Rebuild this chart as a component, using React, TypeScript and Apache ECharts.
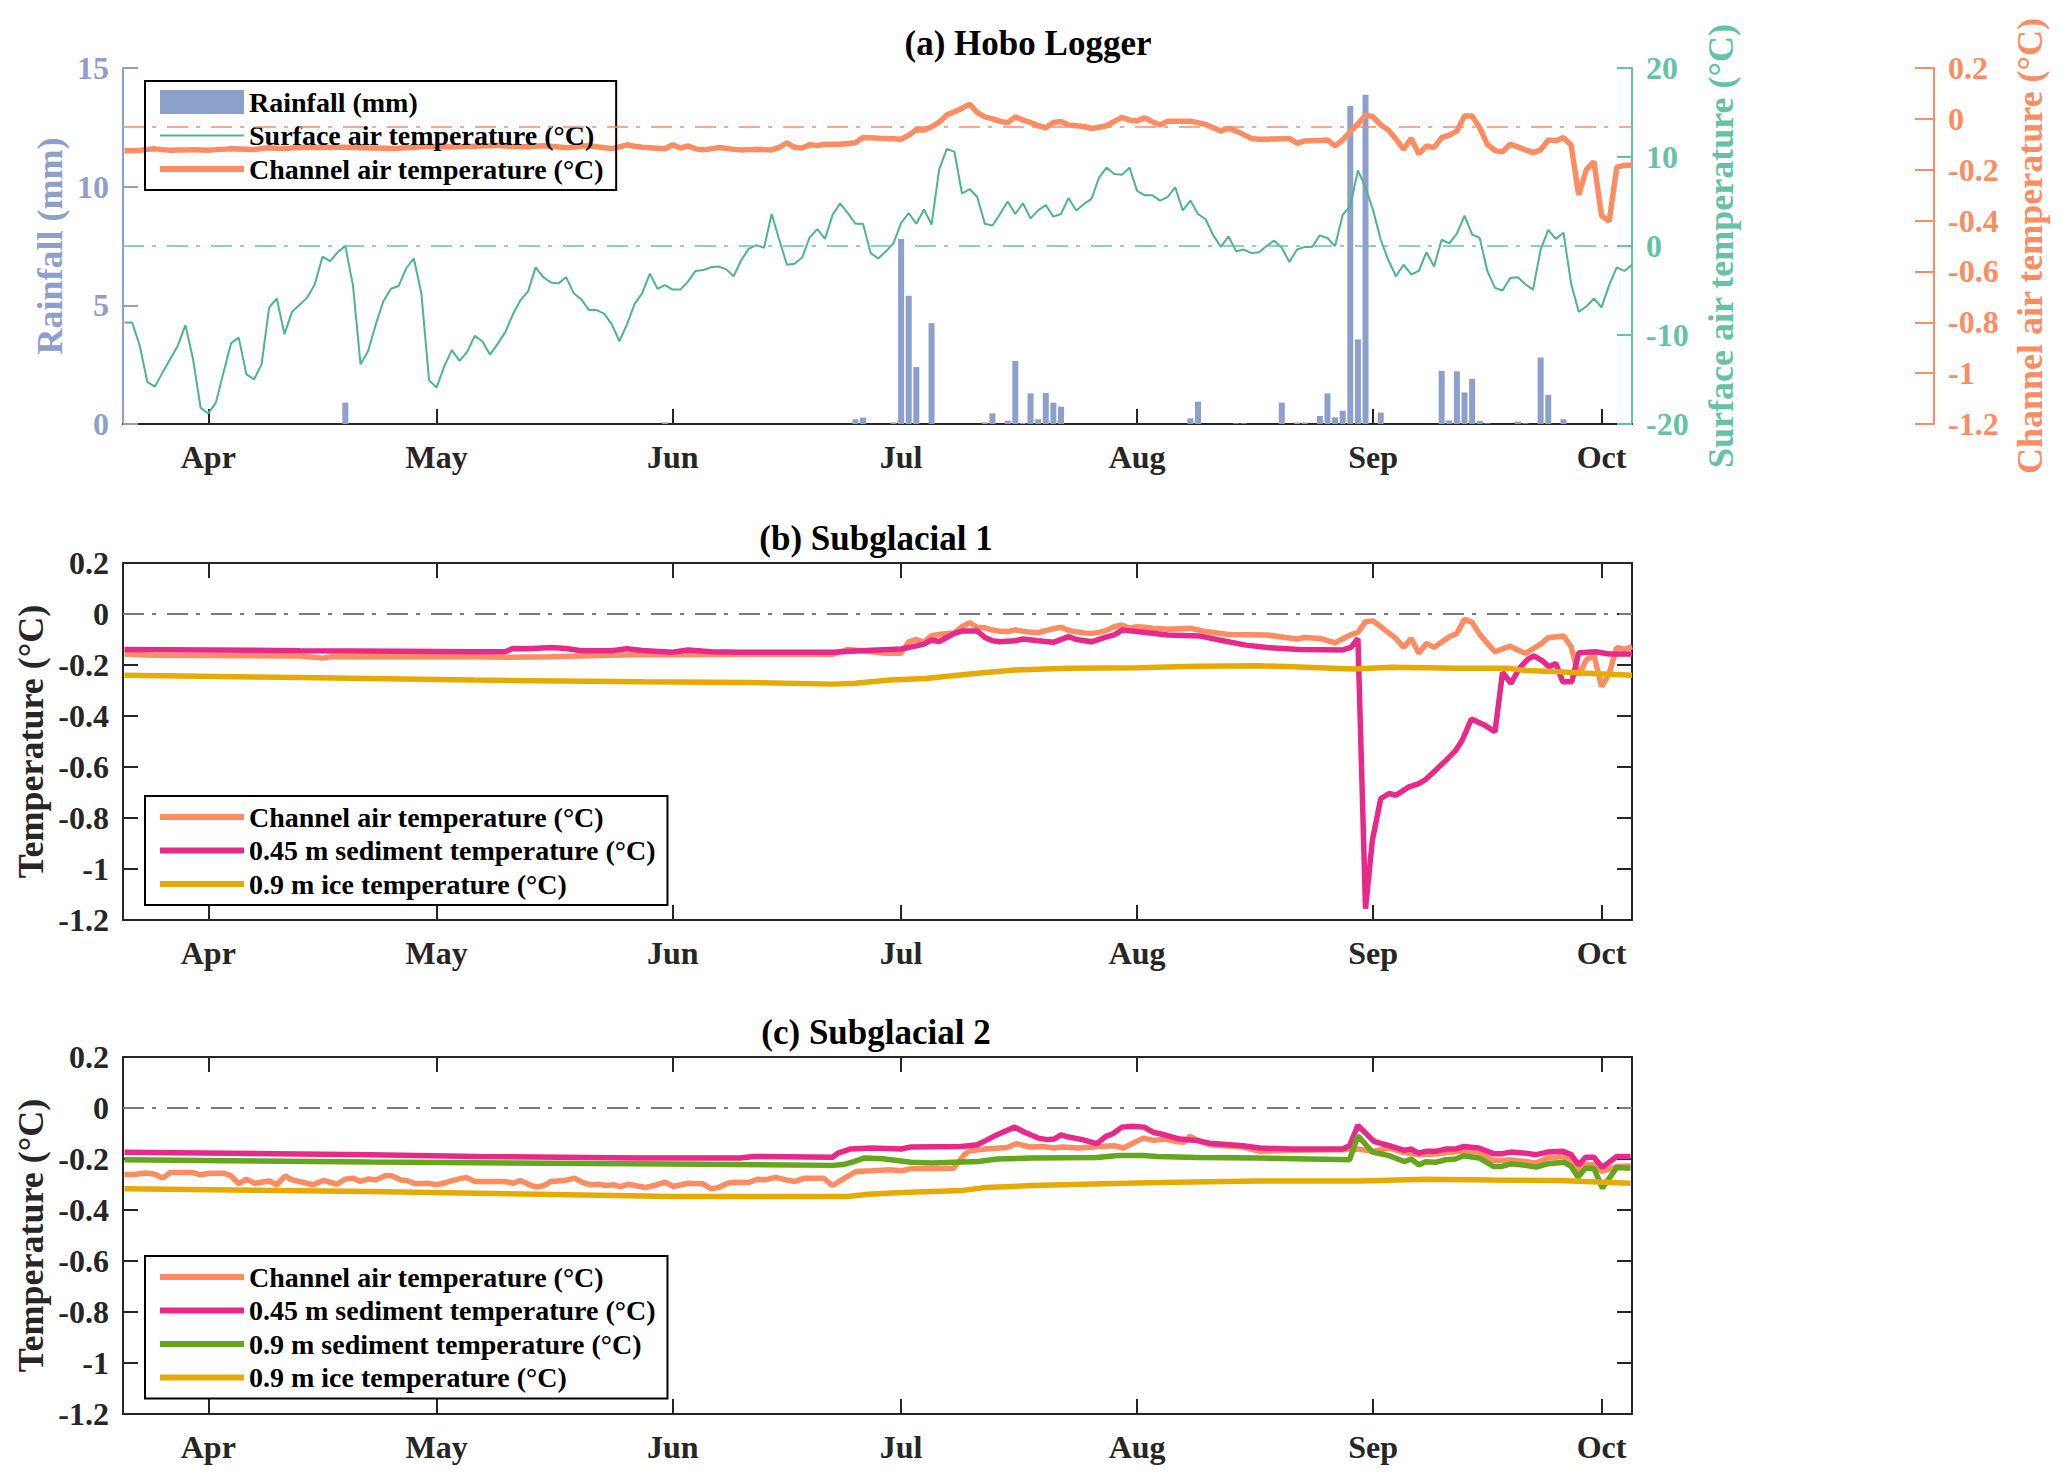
import { useEffect, useRef } from "react";
import * as echarts from "echarts";

// x axis is "day of year" (Jan 1 = 0), month ticks at month starts
const monthStarts = [90, 120, 151, 181, 212, 243, 273];
const monthLabels = ["Apr", "May", "Jun", "Jul", "Aug", "Sep", "Oct"];
const dayMin = 78.8;
const dayMax = 277;

// (a) daily series start on this day
const firstDay = 79;

const surfaceAir = [
  -8.6, -8.6, -11.2, -15.3, -15.8, -14.2, -12.7, -11.2, -8.9, -12.7,
  -18.2, -18.8, -17.6, -14.2, -10.9, -10.3, -14.4, -15.0, -13.3, -6.9,
  -5.9, -9.9, -7.4, -6.6, -5.8, -4.3, -1.2, -1.7, -0.7, 0,
  -4.4, -13.3, -11.8, -8.8, -6.2, -4.8, -4.5, -2.5, -1.4, -5.4,
  -15.1, -15.9, -13.5, -11.7, -12.9, -11.9, -10.1, -10.7, -12.2, -11.0,
  -9.7, -7.7, -6.1, -5.1, -2.4, -3.5, -4.1, -4.2, -3.5, -5.3,
  -6.0, -7.2, -7.2, -7.6, -8.8, -10.7, -8.8, -6.5, -5.3, -3.1,
  -4.8, -4.4, -4.9, -4.9, -4.0, -2.8, -2.7, -2.4, -2.3, -2.6,
  -3.4, -1.6, -0.3, 0.1, -0.2, 3.6, 0.7, -2.1, -2.0, -1.3,
  1.0, 1.9, 0.8, 3.5, 4.8, 3.7, 2.5, 2.5, -0.8, -1.4,
  -0.6, 0.3, 2.6, 3.7, 2.5, 4.1, 2.4, 8.6, 10.9, 10.6,
  5.9, 6.4, 5.5, 2.5, 2.3, 3.6, 5.0, 3.6, 4.8, 3.1,
  4.0, 4.6, 3.3, 3.6, 5.4, 4.0, 4.7, 5.3, 7.7, 8.8,
  8.1, 8.0, 8.8, 6.2, 5.7, 5.7, 5.1, 5.5, 6.6, 4.0,
  5.1, 3.6, 3.0, 1.2, -0.1, 1.1, -0.6, -0.4, -0.8, -0.7,
  0, 0.6, -0.2, -1.8, -0.4, -0.1, -0.1, 1.2, 0.9, 0,
  3.5, 4.5, 8.5, 6.6, 4.0, 0.7, -1.6, -3.4, -2.1, -3.2,
  -2.8, -0.7, -2.3, 0.7, 0.3, 1.4, 3.4, 1.3, 0.9, -2.8,
  -4.7, -5.0, -3.6, -3.5, -4.3, -4.9, -0.4, 1.8, 0.8, 1.5,
  -4.2, -7.4, -6.8, -5.9, -6.9, -4.4, -2.4, -2.8, -2.1,
];

const channelAirA = [
  -0.125, -0.125, -0.124, -0.12, -0.118, -0.121, -0.123, -0.122, -0.122, -0.121,
  -0.122, -0.123, -0.121, -0.12, -0.118, -0.119, -0.12, -0.121, -0.117, -0.114,
  -0.116, -0.117, -0.115, -0.113, -0.112, -0.113, -0.112, -0.113, -0.112, -0.112,
  -0.113, -0.114, -0.115, -0.115, -0.116, -0.117, -0.116, -0.114, -0.113, -0.11,
  -0.109, -0.109, -0.11, -0.111, -0.11, -0.109, -0.108, -0.107, -0.106, -0.104,
  -0.107, -0.109, -0.11, -0.11, -0.108, -0.106, -0.108, -0.111, -0.114, -0.112,
  -0.108, -0.106, -0.11,
  -0.114, -0.117, -0.11, -0.102, -0.108, -0.112, -0.114, -0.116, -0.118, -0.102,
  -0.115, -0.106, -0.118, -0.122, -0.118, -0.113, -0.116, -0.12, -0.122, -0.121,
  -0.12, -0.121, -0.122, -0.112, -0.094, -0.112, -0.115, -0.102, -0.105, -0.1,
  -0.1, -0.1, -0.097, -0.094, -0.073, -0.074, -0.076, -0.077, -0.078, -0.08,
  -0.064, -0.043, -0.044, -0.031, -0.013, 0.015, 0.028, 0.042, 0.058, 0.025,
  0.008, 0, -0.01, -0.015, 0.008, -0.005, -0.014, -0.027, -0.035, -0.014,
  -0.01, -0.024, -0.027, -0.03, -0.038, -0.033, -0.027, -0.01, 0.006, -0.005,
  -0.008, 0.004, -0.011, -0.024,
  -0.009, -0.009, -0.009, -0.009, -0.015, -0.022, -0.035, -0.048, -0.037, -0.048,
  -0.062, -0.077, -0.08, -0.08, -0.079, -0.078, -0.077, -0.096, -0.087, -0.086,
  -0.085, -0.083, -0.106, -0.083, -0.05, -0.02, 0.015, 0.008, -0.024, -0.044,
  -0.08, -0.12, -0.077, -0.138, -0.107, -0.113, -0.074, -0.064, -0.048, 0.011,
  0.011, -0.035, -0.1, -0.125, -0.129, -0.1, -0.11, -0.122, -0.133, -0.122,
  -0.083, -0.086, -0.074, -0.103, -0.299, -0.2, -0.168, -0.381, -0.403, -0.19,
  -0.183, -0.181,
];

// [day, mm]
const rainfall = [
  [108, 0.9], [150, 0.07], [175, 0.2], [176, 0.27], [180, 0.07], [181, 7.8],
  [182, 5.4], [183, 2.4], [185, 4.25], [192, 0.07], [193, 0.45], [195, 0.14],
  [196, 2.66], [197, 0.04], [198, 1.29], [199, 0.2], [200, 1.31], [201, 0.9],
  [202, 0.73], [219, 0.24], [220, 0.94], [225, 0.03], [226, 0.03], [231, 0.9],
  [233, 0.06], [234, 0.06], [236, 0.34], [237, 1.29], [238, 0.28], [239, 0.56],
  [240, 13.4], [241, 3.56], [242, 13.87], [244, 0.48], [252, 2.24], [253, 0.15],
  [254, 2.22], [255, 1.33], [256, 1.9], [257, 0.13], [258, 0.03], [262, 0.1],
  [263, 0.03], [265, 2.8], [266, 1.23], [268, 0.2],
];

// (b) Subglacial 1, [day, °C]
const channelAir1 = [
  [79, -0.157], [83, -0.162], [90, -0.163], [96, -0.164], [102, -0.165], [104, -0.17],
  [105, -0.173], [106, -0.168], [110, -0.167], [118, -0.168], [125, -0.168], [129, -0.17],
  [135, -0.168], [140, -0.164], [146, -0.16], [151, -0.16], [160, -0.158], [165, -0.158],
  [172, -0.158], [174, -0.139], [175, -0.142], [177, -0.148], [179, -0.154], [181, -0.154],
  [182, -0.109], [183, -0.1], [184, -0.11], [185, -0.085], [186, -0.08], [187, -0.076],
  [188, -0.074], [189, -0.05], [190, -0.034], [191, -0.052], [192, -0.054], [193, -0.063],
  [194, -0.068], [195, -0.069], [196, -0.062], [197, -0.068], [198, -0.072], [199, -0.073],
  [200, -0.065], [201, -0.058], [202, -0.052], [203, -0.064], [204, -0.07], [205, -0.074],
  [206, -0.076], [207, -0.072], [208, -0.064], [209, -0.05], [210, -0.043], [211, -0.055],
  [212, -0.05], [213, -0.052], [214, -0.056], [216, -0.06], [219, -0.056], [221, -0.069],
  [224, -0.08], [229, -0.082], [231, -0.09], [233, -0.098], [234, -0.092], [236, -0.096],
  [238, -0.113], [240, -0.082], [241, -0.072], [242, -0.03], [243, -0.027], [245, -0.073],
  [246, -0.096], [247, -0.131], [248, -0.096], [249, -0.154], [250, -0.115], [251, -0.131],
  [252, -0.11], [253, -0.089], [254, -0.076], [255, -0.021], [256, -0.033], [257, -0.08],
  [258, -0.115], [259, -0.148], [261, -0.126], [262, -0.141], [263, -0.154], [265, -0.118],
  [266, -0.093], [268, -0.086], [269, -0.128], [270, -0.24], [271, -0.18], [272, -0.161],
  [273, -0.285], [274, -0.233], [275, -0.131], [276, -0.139], [277, -0.128],
];

const sediment045a = [
  [79, -0.139], [90, -0.141], [102, -0.144], [115, -0.146], [125, -0.148], [129, -0.148],
  [130, -0.135], [132, -0.136], [135, -0.131], [137, -0.135], [139, -0.144], [143, -0.144],
  [145, -0.136], [147, -0.143], [151, -0.15], [153, -0.141], [156, -0.148], [160, -0.15],
  [172, -0.15], [175, -0.145], [181, -0.137], [183, -0.125], [184, -0.118], [185, -0.102],
  [186, -0.108], [188, -0.076], [189, -0.067], [191, -0.067], [192, -0.092], [193, -0.105],
  [194, -0.109], [196, -0.105], [197, -0.098], [199, -0.105], [201, -0.111], [203, -0.089],
  [204, -0.1], [206, -0.109], [208, -0.09], [209, -0.082], [210, -0.063], [212, -0.069],
  [216, -0.082], [220.2, -0.086], [222.8, -0.102], [226.3, -0.122], [229.4, -0.132],
  [233.3, -0.139], [239, -0.141], [240.1, -0.131], [241, -0.096], [242, -1.156],
  [242.9, -0.887], [244, -0.724], [245.1, -0.704], [246, -0.711], [247.7, -0.678],
  [249, -0.665], [249.9, -0.649], [251.2, -0.613], [252.5, -0.576], [253.8, -0.537],
  [254.7, -0.495], [255.9, -0.412], [257.6, -0.435], [259, -0.462], [260, -0.229],
  [261.1, -0.272], [262.2, -0.213], [263.3, -0.178], [264.1, -0.164], [265.2, -0.183],
  [266.1, -0.207], [267, -0.194], [267.9, -0.266], [269.1, -0.266], [270, -0.152],
  [272.2, -0.148], [274, -0.157], [277, -0.157],
];

const ice09a = [
  [79, -0.24], [102, -0.249], [125, -0.259], [147, -0.266], [161, -0.269], [172, -0.275],
  [175, -0.272], [179.5, -0.259], [184.2, -0.253], [190.7, -0.233], [195.9, -0.22],
  [202.9, -0.213], [212, -0.211], [220, -0.205], [228, -0.203], [232.4, -0.207],
  [240.3, -0.216], [245.5, -0.209], [254.3, -0.213], [260.8, -0.213], [263, -0.222],
  [267.4, -0.226], [271.8, -0.233], [277, -0.24],
];

// (c) Subglacial 2, [day, °C]
const channelAir2 = [
  [79, -0.262], [80.5, -0.26], [81.8, -0.255], [83, -0.26], [84, -0.275], [85, -0.253],
  [87.9, -0.253], [89, -0.262], [90.2, -0.256], [92.1, -0.256], [93, -0.266], [94, -0.297],
  [95, -0.279], [96.1, -0.295], [98, -0.286], [99, -0.301], [100.1, -0.266], [101, -0.282],
  [103.8, -0.301], [105.1, -0.284], [106.9, -0.299], [108, -0.279], [109, -0.275],
  [110, -0.288], [111.1, -0.278], [112, -0.282], [113.3, -0.265], [114.1, -0.266],
  [115.3, -0.282], [116, -0.284], [117.2, -0.297], [118.8, -0.295], [120, -0.301],
  [121.4, -0.291], [122.8, -0.279], [123.9, -0.272], [125, -0.288], [128.9, -0.288],
  [130.1, -0.295], [131, -0.284], [132.2, -0.301], [133.1, -0.31], [134.1, -0.304],
  [135, -0.288], [136.9, -0.284], [138.1, -0.275], [139.1, -0.292], [140.2, -0.301],
  [141.2, -0.299], [142.3, -0.304], [143.2, -0.301], [144.1, -0.308], [145.2, -0.299],
  [146.2, -0.305], [147.4, -0.312], [148.9, -0.301], [150, -0.291], [151.1, -0.308],
  [153, -0.295], [154.9, -0.297], [156.1, -0.317], [157, -0.312], [158.2, -0.295],
  [159.1, -0.291], [161, -0.292], [162.2, -0.279], [163.1, -0.282], [164.5, -0.272],
  [165.9, -0.282], [167.1, -0.288], [168.3, -0.275], [170.8, -0.275], [172, -0.304],
  [173.2, -0.282], [175.1, -0.249], [177.2, -0.246], [179.5, -0.242], [181.1, -0.246],
  [182.3, -0.238], [186.5, -0.237], [187.9, -0.236], [189.3, -0.183], [190, -0.168],
  [192.1, -0.161], [194.9, -0.155], [196.1, -0.14], [197.9, -0.153], [199.6, -0.151],
  [201, -0.157], [202.2, -0.153], [204.3, -0.157], [207.1, -0.151], [209, -0.148],
  [210.2, -0.157], [212.8, -0.118], [214.2, -0.127], [215.6, -0.122], [217, -0.131],
  [218.2, -0.134], [218.9, -0.111], [219.8, -0.124], [221.5, -0.144], [225.9, -0.153],
  [228.1, -0.17], [232.4, -0.166], [239, -0.164], [241, -0.161], [242.9, -0.17],
  [245.1, -0.157], [247.1, -0.175], [249, -0.183], [251.2, -0.18], [254.9, -0.168],
  [256.9, -0.174], [258.8, -0.206], [261.1, -0.204], [263, -0.21], [264.4, -0.216],
  [265.9, -0.196], [267.9, -0.19], [269.1, -0.21], [270, -0.249], [270.9, -0.223],
  [272, -0.223], [273.1, -0.249], [275, -0.229], [276.8, -0.227],
];

const sediment045b = [
  [79, -0.174], [111.3, -0.183], [125.4, -0.19], [146.7, -0.196], [159.8, -0.196],
  [161.7, -0.19], [172, -0.193], [172.7, -0.177], [174.3, -0.161], [177.2, -0.157],
  [181, -0.161], [182.3, -0.153], [188.9, -0.151], [191, -0.144], [192.1, -0.128],
  [193.6, -0.105], [195.9, -0.075], [197.3, -0.096], [199, -0.118], [200.2, -0.124],
  [201.1, -0.122], [202, -0.105], [203, -0.114], [204.8, -0.124], [206.7, -0.14],
  [207.9, -0.111], [208.8, -0.101], [210, -0.075], [211.4, -0.072], [212.9, -0.075],
  [214.2, -0.096], [215.6, -0.105], [217.6, -0.122], [219.7, -0.127], [221.5, -0.138],
  [225.9, -0.148], [228.1, -0.157], [232.4, -0.161], [239, -0.161], [239.9, -0.148],
  [241, -0.068], [243.1, -0.131], [245.1, -0.148], [247.1, -0.166], [248, -0.161],
  [249, -0.177], [249.9, -0.17], [251.2, -0.17], [252.5, -0.161], [253.8, -0.161],
  [254.9, -0.151], [256.9, -0.157], [258.8, -0.179], [259.9, -0.179], [261.1, -0.173],
  [263, -0.177], [264.4, -0.183], [265.9, -0.173], [267.9, -0.17], [269, -0.183],
  [270, -0.223], [270.9, -0.193], [272, -0.193], [273.1, -0.233], [275, -0.19],
  [276.8, -0.19],
];

const sediment09b = [
  [79, -0.203], [111.3, -0.212], [151, -0.22], [172, -0.225], [173.4, -0.222],
  [174.8, -0.21], [176.2, -0.196], [178.6, -0.199], [182.3, -0.213], [185.1, -0.216],
  [188.9, -0.212], [191.2, -0.21], [193.6, -0.2], [198.3, -0.196], [206.7, -0.194],
  [209.5, -0.186], [212.8, -0.186], [214.7, -0.19], [219.8, -0.194], [228.1, -0.196],
  [239.9, -0.203], [241, -0.109], [242.9, -0.173], [245.1, -0.187], [247.1, -0.21],
  [248, -0.2], [249, -0.223], [249.9, -0.211], [251.2, -0.213], [252.5, -0.203],
  [253.8, -0.2], [254.9, -0.187], [256.9, -0.196], [258.8, -0.229], [259.9, -0.229],
  [261.1, -0.219], [263, -0.225], [264.4, -0.232], [265.9, -0.219], [268.1, -0.213],
  [269, -0.229], [269.9, -0.271], [270.9, -0.236], [272, -0.236], [273.1, -0.314],
  [275, -0.233], [276.8, -0.236],
];

const ice09b = [
  [79, -0.317], [111.3, -0.327], [125.4, -0.334], [151, -0.347], [173.9, -0.347],
  [176.7, -0.338], [181.1, -0.331], [188.9, -0.324], [192.1, -0.312], [198.3, -0.304],
  [207.6, -0.297], [214.9, -0.292], [228.1, -0.286], [241.2, -0.286], [249.9, -0.279],
  [258.7, -0.282], [267.4, -0.284], [276.8, -0.295],
];

const FONT = '"Liberation Serif", "Times New Roman", Times, serif';
const INK = "#262626";
const BLUE = "#8DA0CB";
const GREEN = "#66C2A5";
const GREEN_LINE = "#4DB58E";
const ORANGE = "#FC8D62";
const PINK = "#E7298A";
const LEAF = "#66A61E";
const GOLD = "#E6AB02";
const DASH = [21, 8, 4, 11];

const NAME_CH = "Channel air temperature (°C)";
const NAME_S45 = "0.45 m sediment temperature (°C)";
const NAME_S90 = "0.9 m sediment temperature (°C)";
const NAME_ICE = "0.9 m ice temperature (°C)";

const txt = (size: number, color = INK) => ({
  fontFamily: FONT,
  fontWeight: "bold" as const,
  fontSize: size,
  color,
});

const fmt = (v: number) => String(Math.round(v * 10) / 10);

const dayAxis = (gridIndex: number, top = false) => ({
  type: "value",
  gridIndex,
  position: top ? "top" : "bottom",
  min: dayMin,
  max: dayMax,
  axisLine: { show: true, onZero: false, lineStyle: { color: INK, width: 2 } },
  axisTick: {
    show: true,
    inside: true,
    length: 15,
    customValues: monthStarts,
    lineStyle: { color: INK, width: 2 },
  },
  axisLabel: {
    show: !top,
    customValues: monthStarts,
    margin: 17,
    ...txt(32),
    formatter: (v: number) => monthLabels[monthStarts.indexOf(v)] ?? "",
  },
  splitLine: { show: false },
});

const tempAxis = (gridIndex: number, right = false) => ({
  type: "value",
  gridIndex,
  position: right ? "right" : "left",
  min: -1.2,
  max: 0.2,
  interval: 0.2,
  name: right ? "" : "Temperature (°C)",
  nameLocation: "middle",
  nameGap: 74,
  nameRotate: 90,
  nameMoveOverlap: false,
  nameTextStyle: txt(36),
  axisLine: { show: true, onZero: false, lineStyle: { color: INK, width: 2 } },
  axisTick: { show: true, inside: true, length: 15, lineStyle: { color: INK, width: 2 } },
  axisLabel: { show: !right, margin: 14, ...txt(32), formatter: fmt },
  splitLine: { show: false },
});

const zeroLine = (value: number, color: string, width: number) => ({
  silent: true,
  symbol: ["none", "none"],
  label: { show: false },
  lineStyle: { color, width, type: DASH },
  data: [{ yAxis: value }],
});

const tempLine = (
  name: string,
  data: number[][],
  color: string,
  xAxisIndex: number,
  yAxisIndex: number,
) => ({
  type: "line",
  name,
  data,
  xAxisIndex,
  yAxisIndex,
  symbol: "none",
  lineStyle: { color, width: 5.5 },
  itemStyle: { color },
});

const legendBox = (top: number, items: { name: string; width: number }[]) => ({
  orient: "vertical",
  left: 145,
  top,
  padding: [7, 12, 7, 12],
  itemGap: 5.5,
  itemWidth: 84,
  itemHeight: 24,
  borderColor: "#000",
  borderWidth: 2,
  backgroundColor: "transparent",
  selectedMode: false,
  textStyle: txt(28, "#000"),
  data: items.map((it) =>
    it.width === 0
      ? { name: it.name, icon: "rect" }
      : { name: it.name, itemStyle: { opacity: 0 }, lineStyle: { width: it.width } },
  ),
});

const App = () => {
  const chartRef = useRef<HTMLDivElement>(null);

  useEffect(() => {
    if (!chartRef.current) return;
    const chart = echarts.init(chartRef.current, undefined, { renderer: "svg" });

    const grids = [
      { left: 123, top: 68, width: 1509, height: 356 },
      { left: 123, top: 563, width: 1509, height: 357 },
      { left: 123, top: 1057, width: 1509, height: 357 },
    ];

    const option = {
      animation: false,
      backgroundColor: "#fff",
      grid: grids.map((g) => ({ ...g, containLabel: false, outerBoundsMode: "none" })),
      xAxis: [dayAxis(0), dayAxis(1), dayAxis(1, true), dayAxis(2), dayAxis(2, true)],
      yAxis: [
        {
          type: "value",
          gridIndex: 0,
          position: "left",
          min: 0,
          max: 15,
          interval: 5,
          name: "Rainfall (mm)",
          nameLocation: "middle",
          nameGap: 55,
          nameRotate: 90,
          nameMoveOverlap: false,
          nameTextStyle: txt(36, BLUE),
          axisLine: { show: true, onZero: false, lineStyle: { color: BLUE, width: 2 } },
          axisTick: { show: true, inside: true, length: 15, lineStyle: { color: BLUE, width: 2 } },
          axisLabel: { margin: 14, ...txt(32, BLUE) },
          splitLine: { show: false },
        },
        {
          type: "value",
          gridIndex: 0,
          position: "right",
          min: -20,
          max: 20,
          interval: 10,
          name: "Surface air temperature (°C)",
          nameLocation: "middle",
          nameGap: 71,
          nameRotate: 90,
          nameMoveOverlap: false,
          nameTextStyle: txt(36, GREEN),
          axisLine: { show: true, onZero: false, lineStyle: { color: GREEN, width: 2 } },
          axisTick: { show: true, inside: true, length: 15, lineStyle: { color: GREEN, width: 2 } },
          axisLabel: { margin: 14, ...txt(32, GREEN) },
          splitLine: { show: false },
        },
        {
          type: "value",
          gridIndex: 0,
          position: "right",
          offset: 302,
          min: -1.2,
          max: 0.2,
          interval: 0.2,
          name: "Channel air temperature (°C)",
          nameLocation: "middle",
          nameGap: 78,
          nameRotate: 90,
          nameMoveOverlap: false,
          nameTextStyle: txt(36, ORANGE),
          axisLine: { show: true, onZero: false, lineStyle: { color: ORANGE, width: 2 } },
          axisTick: { show: true, inside: true, length: 19, lineStyle: { color: ORANGE, width: 2 } },
          axisLabel: { margin: 14, ...txt(32, ORANGE), formatter: fmt },
          splitLine: { show: false },
        },
        tempAxis(1),
        tempAxis(1, true),
        tempAxis(2),
        tempAxis(2, true),
      ],
      legend: [
        legendBox(81, [
          { name: "Rainfall (mm)", width: 0 },
          { name: "Surface air temperature (°C)", width: 2 },
          { name: NAME_CH, width: 6 },
        ]),
        legendBox(796, [
          { name: NAME_CH, width: 6 },
          { name: NAME_S45, width: 6 },
          { name: NAME_ICE, width: 6 },
        ]),
        legendBox(1256, [
          { name: NAME_CH, width: 6 },
          { name: NAME_S45, width: 6 },
          { name: NAME_S90, width: 6 },
          { name: NAME_ICE, width: 6 },
        ]),
      ],
      graphic: [
        { text: "(a) Hobo Logger", x: 1028, y: 43 },
        { text: "(b) Subglacial 1", x: 876, y: 538 },
        { text: "(c) Subglacial 2", x: 876, y: 1032 },
      ].map((t) => ({
        type: "text",
        x: t.x,
        y: t.y,
        silent: true,
        style: {
          text: t.text,
          fill: "#000",
          font: `bold 35px ${FONT}`,
          textAlign: "center",
          textVerticalAlign: "middle",
        },
      })),
      series: [
        {
          type: "bar",
          name: "Rainfall (mm)",
          xAxisIndex: 0,
          yAxisIndex: 0,
          data: rainfall,
          barWidth: 6,
          itemStyle: { color: BLUE },
        },
        {
          type: "line",
          name: "Surface air temperature (°C)",
          xAxisIndex: 0,
          yAxisIndex: 1,
          data: surfaceAir.map((v, i) => [firstDay + i, v]),
          symbol: "none",
          lineStyle: { color: GREEN_LINE, width: 2 },
          itemStyle: { color: GREEN_LINE },
          markLine: zeroLine(0, GREEN, 1.5),
        },
        {
          type: "line",
          name: NAME_CH,
          xAxisIndex: 0,
          yAxisIndex: 2,
          data: channelAirA.map((v, i) => [firstDay + i, v]),
          symbol: "none",
          lineStyle: { color: ORANGE, width: 5.5 },
          itemStyle: { color: ORANGE },
          markLine: zeroLine(-0.034, ORANGE, 1.5),
        },
        {
          ...tempLine(NAME_CH, channelAir1, ORANGE, 1, 3),
          markLine: zeroLine(0, "#7a7a7a", 2.2),
        },
        tempLine(NAME_S45, sediment045a, PINK, 1, 3),
        tempLine(NAME_ICE, ice09a, GOLD, 1, 3),
        {
          ...tempLine(NAME_CH, channelAir2, ORANGE, 3, 5),
          markLine: zeroLine(0, "#7a7a7a", 2.2),
        },
        tempLine(NAME_S45, sediment045b, PINK, 3, 5),
        tempLine(NAME_S90, sediment09b, LEAF, 3, 5),
        tempLine(NAME_ICE, ice09b, GOLD, 3, 5),
      ],
    };

    chart.setOption(option as echarts.EChartsOption);

    return () => {
      chart.dispose();
    };
  }, []);

  return (
    <div
      ref={chartRef}
      style={{ position: "absolute", left: 0, top: 0, width: 2067, height: 1482 }}
    />
  );
};

export default App;
